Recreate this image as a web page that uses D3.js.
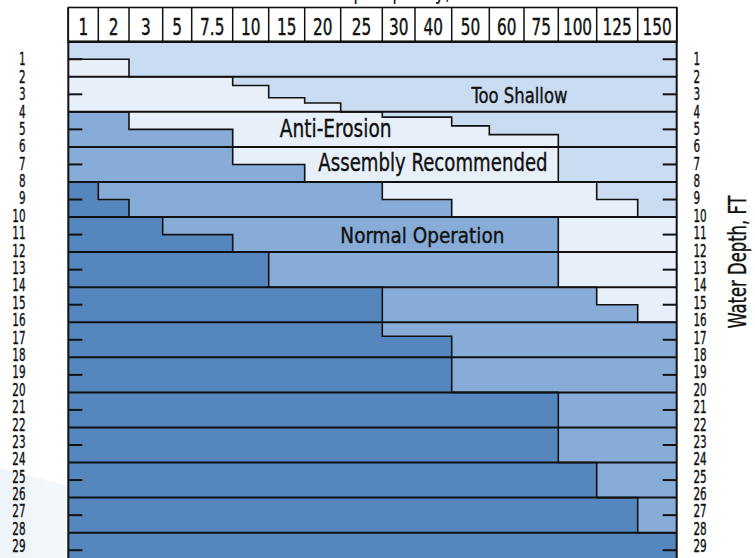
<!DOCTYPE html>
<html><head><meta charset="utf-8">
<script src="https://cdn.jsdelivr.net/npm/d3@7"></script>
<style>
html,body{margin:0;padding:0;background:#fff;}
svg{display:block;font-family:"DejaVu Sans Condensed","DejaVu Sans",sans-serif;font-stretch:condensed;}
</style></head><body>
<svg id="c" width="755" height="558"></svg>
<script>
// ---------------- DATA ----------------
const capacities = ["1","2","3","5","7.5","10","15","20","25","30","40","50","60","75","100","125","150"];
const depthLabels = [1,2,3,4,5,6,7,8,9,10,11,12,13,14,15,16,17,18,19,20,21,22,23,24,25,26,27,28,29];
const tickDepths = [1,3,5,7,9,11,13,15,17,19,21,23,25,27,29];
// minimum water depth (ft) per capacity column for each zone boundary
const shallowLimit = [1,1,2,2,2,2.5,3.2,3.5,4,4.3,4.3,4.8,5.3,5.3,8,9,10];      // Too Shallow -> Anti-Erosion / Assembly
const normalLimit  = [4,4,5,5,5,7,7,8,8,9,9,10,10,10,14,15,16];                // -> Normal Operation
const deepLimit    = [8,9,10,11,11,12,14,14,14,16.8,16.8,20,20,20,24,26,28];   // -> deeper Normal Operation
const maxDepth = 30;
const zoneLabels = ["Too Shallow","Anti-Erosion","Assembly Recommended","Normal Operation"];
const titleText = "Pump Capacity, GPM";
const yTitle = "Water Depth, FT";

// ---------------- LAYOUT ----------------
const W = 755, H = 558;
const left = 68.3, right = 676.7, headTop = 7.5, plotTop = 41.7, ftPx = 17.535, labStep = 17.39;
const colWeights = [30,30.7,33.7,29,41,36,36,36,41.6,32.7,36.7,37.6,34.7,34.3,38.4,41,39];
const zoneColors = ["#c9dcf1","#e7eff9","#86acd7","#5586be"];
const ink = "#111";

const wsum = d3.sum(colWeights);
const edges = [left];
colWeights.forEach(w => edges.push(edges[edges.length-1] + w / wsum * (right-left)));
const x = d3.scaleLinear().domain(d3.range(capacities.length+1)).range(edges);
const y = d3.scaleLinear().domain([0, maxDepth]).range([plotTop, plotTop + maxDepth*ftPx]);
const yLab = d3.scaleLinear().domain([1, 29]).range([y(1), y(1) + 28*labStep]);

const svg = d3.select("#c");

// condensed text helper
function ctext(sel, tx, ty, sx, size, anchor, txt, dy, sw) {
  return sel.append("text").attr("transform", `translate(${tx},${ty}) scale(${sx},1)`)
    .attr("font-size", size).attr("text-anchor", anchor).attr("dy", dy || 0)
    .attr("fill", ink).attr("stroke", ink).attr("stroke-width", sw || 0.3).text(txt);
}

const defs = svg.append("defs");
const grad = defs.append("linearGradient").attr("id","bg").attr("x1",0).attr("x2",1).attr("y1",0).attr("y2",0);
grad.append("stop").attr("offset",0).attr("stop-color","#eef3f8");
grad.append("stop").attr("offset",1).attr("stop-color","#f5f8fb");
svg.append("path").attr("d","M0,468 L"+left+",486 L"+left+","+H+" L0,"+H+"Z").attr("fill","url(#bg)");

// title (cut off at top edge as in the reference)
ctext(svg, 405, -1, 0.8, 24, "middle", titleText, 0, 0.01);

// zones
const g = svg.append("g");
capacities.forEach((c,i) => {
  const b = [0, shallowLimit[i], normalLimit[i], deepLimit[i], maxDepth];
  for (let z=0; z<4; z++) {
    if (b[z+1] <= b[z]) continue;
    g.append("rect").attr("x", x(i)).attr("width", x(i+1)-x(i))
      .attr("y", y(b[z])).attr("height", y(b[z+1])-y(b[z]))
      .attr("fill", zoneColors[z]).attr("shape-rendering","crispEdges");
  }
});

// step boundary lines
const stepLine = d3.line().x(d=>x(d[0])).y(d=>y(d[1])).curve(d3.curveStepAfter);
[shallowLimit, normalLimit, deepLimit].forEach(arr => {
  const pts = arr.map((v,i)=>[i,v]); pts.push([arr.length, arr[arr.length-1]]);
  g.append("path").attr("d", stepLine(pts)).attr("fill","none").attr("stroke",ink).attr("stroke-width",1.6);
});

// band lines every 2 ft
d3.range(0, maxDepth+1, 2).forEach(d => {
  svg.append("line").attr("x1",x(0)).attr("x2",x(capacities.length)).attr("y1",y(d)).attr("y2",y(d))
    .attr("stroke",ink).attr("stroke-width", d===0?2.6:2);
});

// borders
[x(0), x(capacities.length)].forEach(xx => svg.append("line").attr("x1",xx).attr("x2",xx)
  .attr("y1",headTop).attr("y2",H).attr("stroke",ink).attr("stroke-width",2));

// ticks
tickDepths.forEach(d => {
  svg.append("line").attr("x1",x(0)).attr("x2",x(0)+14).attr("y1",y(d)).attr("y2",y(d)).attr("stroke",ink).attr("stroke-width",2);
  svg.append("line").attr("x1",x(capacities.length)-14).attr("x2",x(capacities.length)).attr("y1",y(d)).attr("y2",y(d)).attr("stroke",ink).attr("stroke-width",2);
});

// depth labels
const lab = svg.append("g");
depthLabels.forEach(d => {
  ctext(lab, 25.5, yLab(d), 0.68, 17, "end", d, "0.36em", 0.35);
  ctext(lab, 693.5, yLab(d), 0.68, 17, "start", d, "0.36em", 0.35);
});

// header
const hd = svg.append("g");
hd.append("rect").attr("x",x(0)).attr("y",headTop).attr("width",x(capacities.length)-x(0)).attr("height",plotTop-headTop)
  .attr("fill","#fff").attr("stroke",ink).attr("stroke-width",1.6);
d3.range(1, capacities.length).forEach(i => hd.append("line").attr("x1",x(i)).attr("x2",x(i))
  .attr("y1",headTop).attr("y2",plotTop).attr("stroke",ink).attr("stroke-width",1.5));
capacities.forEach((c,i) => ctext(hd, (x(i)+x(i+1))/2, 35.2, 0.74, 23, "middle", c, 0, 0.4));
svg.append("line").attr("x1",x(0)).attr("x2",x(capacities.length)).attr("y1",plotTop).attr("y2",plotTop)
  .attr("stroke",ink).attr("stroke-width",2.6);

// zone labels (placed in data coordinates: column index, depth)
const zl = svg.append("g");
const zonePos = [[12.87,3.05],[7.86,4.94],[10.49,6.9],[10.2,11.0]];
const zoneSize = [21,24,24,22];
const zoneSx = [0.87,0.86,0.84,0.93];
zoneLabels.forEach((t,i) => ctext(zl, x(zonePos[i][0]), y(zonePos[i][1]), zoneSx[i], zoneSize[i], "middle", t, "0.36em", 0.35));

// right axis title
svg.append("text").attr("transform","translate(746,262) rotate(-90) scale(0.76,1)").attr("text-anchor","middle")
  .attr("font-size",24).attr("fill",ink).attr("stroke",ink).attr("stroke-width",0.35).text(yTitle);
</script>
</body></html>
